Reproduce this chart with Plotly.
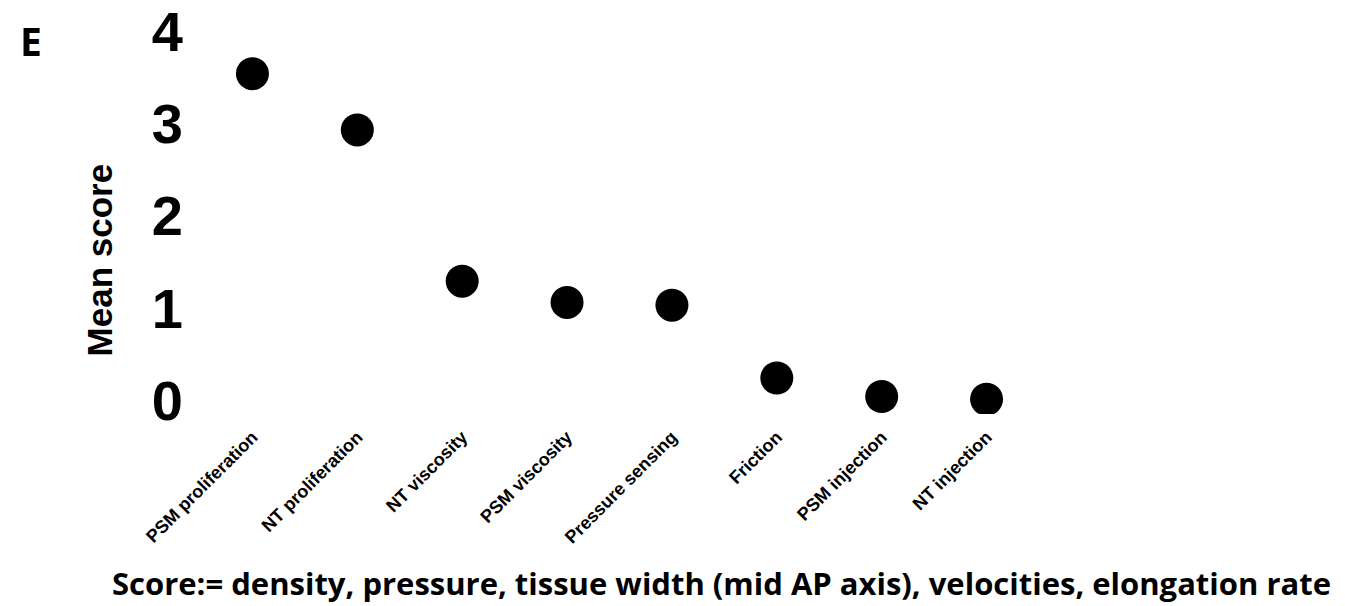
import plotly.graph_objects as go

categories = ["PSM proliferation", "NT proliferation", "NT viscosity", "PSM viscosity",
              "Pressure sensing", "Friction", "PSM injection", "NT injection"]
mean_score = [3.54, 2.93, 1.29, 1.06, 1.03, 0.24, 0.04, 0.01]
y_ticks = [0, 1, 2, 3, 4]

fig = go.Figure()
fig.add_trace(go.Scatter(
    x=categories, y=mean_score, mode="markers",
    marker=dict(color="black", size=33),
    showlegend=False,
))

# page body has an 8px margin, so the figure is a little smaller than the window
fig.update_layout(
    width=1337, height=598,
    margin=dict(l=192, r=306, t=14, b=192),
    paper_bgcolor="white", plot_bgcolor="white",
    font=dict(family="Liberation Sans, Arial", color="black"),
    xaxis=dict(
        range=[-0.5, 7.5], showgrid=False, zeroline=False, showline=False,
        tickangle=-45, tickfont=dict(size=18, family="Liberation Sans, Arial", weight="bold"),
        ticklabelstandoff=8, automargin=False,
    ),
    yaxis=dict(
        range=[-0.15, 4.1], showgrid=False, zeroline=False, showline=False,
        tickvals=y_ticks, tickfont=dict(size=56, family="Liberation Sans, Arial", weight="bold"),
        ticklabelstandoff=16, ticklabeloverflow="allow", automargin=False,
    ),
)

# y axis title
fig.add_annotation(
    text="<b>Mean score</b>", textangle=-90, showarrow=False,
    xref="paper", yref="paper", x=0, y=0.393, xanchor="right", yanchor="middle",
    xshift=-79, font=dict(size=35, family="Liberation Sans, Arial"),
)
# panel letter
fig.add_annotation(
    text="<b>E</b>", showarrow=False, xref="paper", yref="paper",
    x=-0.202, y=0.954, xanchor="center", yanchor="middle",
    font=dict(size=39, family="Open Sans"),
)
# caption
fig.add_annotation(
    text="<b>Score:= density, pressure, tissue width (mid AP axis), velocities, elongation rate</b>",
    showarrow=False, xref="paper", yref="paper", x=0.6216, y=-0.431,
    xanchor="center", yanchor="middle",
    font=dict(size=31, family="Open Sans"),
)

fig.write_html("out.html")
